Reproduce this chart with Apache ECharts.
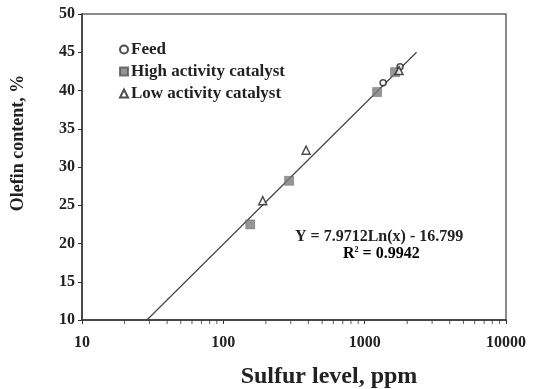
<!DOCTYPE html>
<html>
<head>
<meta charset="utf-8">
<script src="https://cdn.jsdelivr.net/npm/echarts@6/dist/echarts.min.js"></script>
<style>
  html, body { margin: 0; padding: 0; background: #fff; }
  #chart { width: 533px; height: 389px; }
</style>
</head>
<body>
<div id="chart"></div>
<script>
// values
var feedX = [1350, 1780];
var feedY = [41.0, 43.1];
var highX = [155, 292, 1225, 1640];
var highY = [22.5, 28.2, 39.8, 42.4];
var lowX = [190, 385, 1750];
var lowY = [25.6, 32.2, 42.6];
// fitted line, end points as drawn
var trendX = [28.8, 2330];
var trendY = [10, 45];
// log minor ticks on the x axis
var minorTicks = [20, 30, 40, 50, 60, 70, 80, 90, 200, 300, 400, 500, 600, 700, 800, 900,
    2000, 3000, 4000, 5000, 6000, 7000, 8000, 9000];

var FONT = 'Liberation Serif';
var INK = '#222';

function pairs(xs, ys) {
    var out = [];
    for (var i = 0; i < xs.length; i++) {
        out.push([xs[i], ys[i]]);
    }
    return out;
}

var chart = echarts.init(document.getElementById('chart'));

var option = {
    animation: false,
    backgroundColor: '#fff',
    grid: {
        left: 82, top: 14, right: 27, bottom: 69,
        show: true,
        borderColor: '#666',
        borderWidth: 1.5
    },
    legend: {
        orient: 'vertical',
        left: 114,
        top: 36,
        itemGap: 5,
        itemWidth: 8,
        itemHeight: 8,
        textStyle: { fontFamily: FONT, fontWeight: 'bold', fontSize: 17, color: INK, padding: [0, 0, 0, -2] },
        data: ['Feed', 'High activity catalyst', 'Low activity catalyst']
    },
    xAxis: {
        type: 'log',
        logBase: 10,
        min: 10,
        max: 10000,
        axisLine: { lineStyle: { color: '#333', width: 1.5 } },
        axisTick: { show: true, length: 4, lineStyle: { color: '#333' } },
        axisLabel: {
            fontFamily: FONT, fontWeight: 'bold', fontSize: 16, color: INK,
            margin: 15,
            formatter: function (v) { return String(Math.round(v)); }
        },
        splitLine: { show: false }
    },
    yAxis: {
        type: 'value',
        min: 10,
        max: 50,
        interval: 5,
        axisLine: { show: true, lineStyle: { color: '#333', width: 1.5 } },
        axisTick: { show: true, length: 4, lineStyle: { color: '#333' } },
        axisLabel: {
            fontFamily: FONT, fontWeight: 'bold', fontSize: 16, color: INK,
            margin: 7
        },
        splitLine: { show: false }
    },
    graphic: [
        {
            type: 'text', x: 18, y: 143, rotation: Math.PI / 2,
            style: {
                text: 'Olefin content, %', font: 'bold 18px "Liberation Serif"', fill: INK,
                align: 'center', verticalAlign: 'middle'
            }
        },
        {
            type: 'text', x: 329, y: 377,
            style: {
                text: 'Sulfur level, ppm', font: 'bold 24px "Liberation Serif"', fill: INK,
                align: 'center', verticalAlign: 'middle'
            }
        },
        {
            type: 'text', left: 295, top: 229,
            style: { text: 'Y = 7.9712Ln(x) - 16.799', font: 'bold 16px "Liberation Serif"', fill: INK }
        },
        {
            type: 'text', left: 343, top: 246,
            style: {
                text: '{r|R}{s|2}{r| = 0.9942}',
                rich: {
                    r: { fontFamily: FONT, fontWeight: 'bold', fontSize: 16, color: INK },
                    s: { fontFamily: FONT, fontWeight: 'bold', fontSize: 8, color: INK, verticalAlign: 'top', padding: [0, 0, 8, 0] }
                }
            }
        }
    ],
    series: [
        {
            name: 'trend',
            type: 'line',
            data: pairs(trendX, trendY),
            symbol: 'none',
            lineStyle: { color: '#444', width: 1.2 },
            z: 1
        },
        {
            name: 'minor',
            type: 'scatter',
            data: minorTicks.map(function (v) { return [v, 10]; }),
            symbol: 'rect',
            symbolSize: [1, 4],
            symbolOffset: [0, 2],
            itemStyle: { color: '#333' },
            clip: false,
            silent: true,
            z: 0
        },
        {
            name: 'High activity catalyst',
            type: 'scatter',
            data: pairs(highX, highY),
            symbol: 'rect',
            symbolSize: 9,
            itemStyle: { color: '#7a7a7a', borderColor: '#555', borderWidth: 0.5 },
            z: 3
        },
        {
            name: 'Feed',
            type: 'scatter',
            data: pairs(feedX, feedY),
            symbol: 'circle',
            symbolSize: 6,
            itemStyle: { color: '#fff', borderColor: '#222', borderWidth: 1.5 },
            z: 4
        },
        {
            name: 'Low activity catalyst',
            type: 'scatter',
            data: pairs(lowX, lowY),
            symbol: 'triangle',
            symbolSize: 8,
            itemStyle: { color: '#fff', borderColor: '#222', borderWidth: 1.5 },
            z: 4
        }
    ]
};

chart.setOption(option);
</script>
</body>
</html>
